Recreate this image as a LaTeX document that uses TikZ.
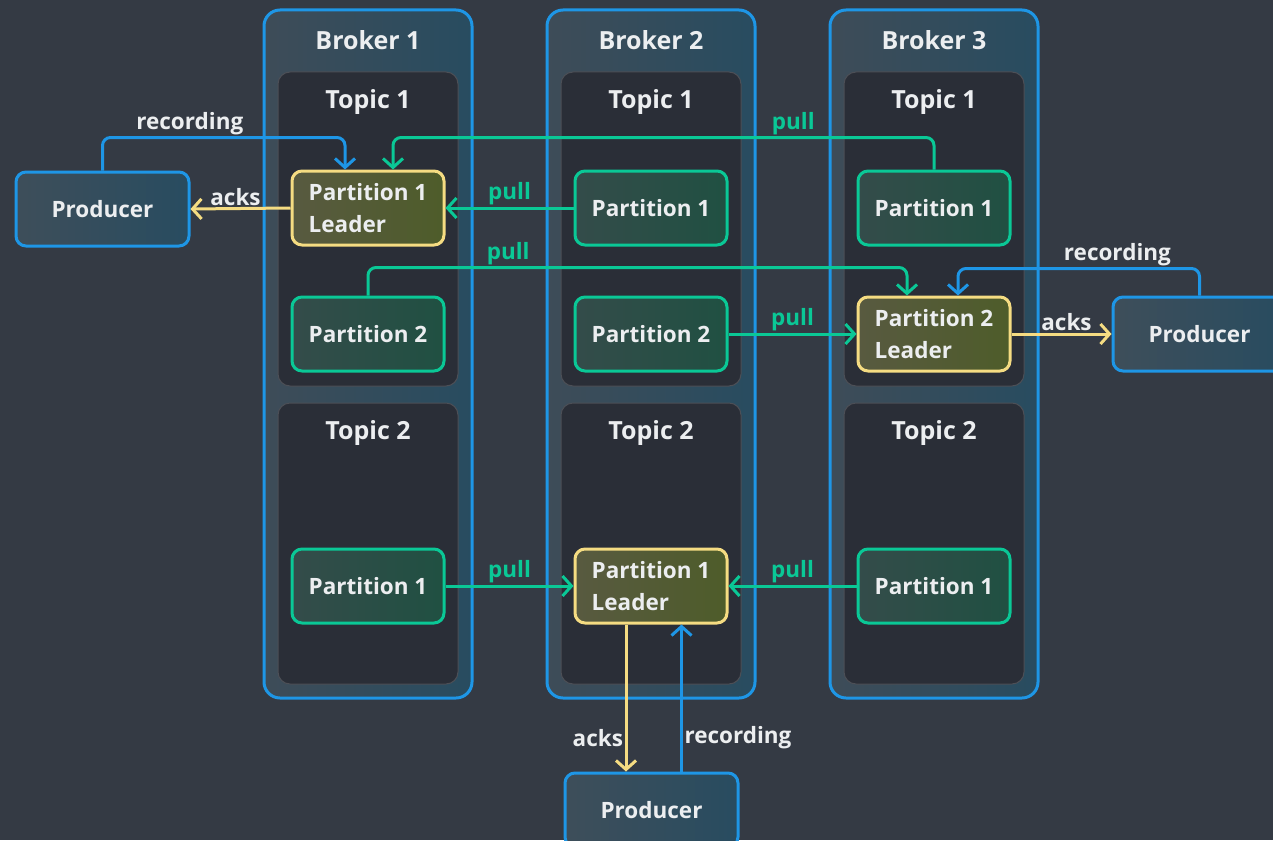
\documentclass[tikz,border=0pt]{standalone}
\usepackage{fontspec}
\setmainfont{Open Sans}
\usetikzlibrary{arrows.meta,positioning}

\definecolor{bgcol}{RGB}{52,58,68}
\definecolor{bluecol}{RGB}{30,150,230}
\definecolor{greencol}{RGB}{10,200,150}
\definecolor{yellowcol}{RGB}{245,220,130}
\definecolor{txtcol}{RGB}{236,238,240}
\definecolor{brkA}{RGB}{62,76,88}
\definecolor{brkB}{RGB}{40,76,96}
\definecolor{topicfill}{RGB}{42,46,55}
\definecolor{partA}{RGB}{52,76,74}
\definecolor{partB}{RGB}{32,80,66}
\definecolor{leadA}{RGB}{88,90,64}
\definecolor{leadB}{RGB}{78,92,42}
\definecolor{prodA}{RGB}{62,78,90}
\definecolor{prodB}{RGB}{40,76,96}

\tikzset{
  broker/.style={draw=bluecol, line width=3pt, rounded corners=16pt,
    left color=brkA, right color=brkB, minimum width=208pt, minimum height=688pt},
  topicbox/.style={fill=topicfill, draw=topicfill!80!white!90!black, line width=1pt,
    rounded corners=12pt, minimum width=180pt},
  title/.style={text=txtcol, font=\fontsize{25}{30}\selectfont\bfseries},
  part/.style={draw=greencol, line width=3pt, rounded corners=10pt,
    left color=partA, right color=partB, minimum width=152pt, minimum height=74pt,
    text=txtcol, font=\fontsize{22.5}{32}\selectfont\bfseries},
  leader/.style={part, draw=yellowcol, left color=leadA, right color=leadB, align=left},
  producer/.style={part, draw=bluecol, left color=prodA, right color=prodB, minimum width=173pt},
  conn/.style={line width=3pt, rounded corners=8pt, -{Straight Barb[length=9pt,width=20pt]}},
  rec/.style={conn, draw=bluecol},
  ack/.style={conn, draw=yellowcol},
  pull/.style={conn, draw=greencol},
  lbl/.style={text=txtcol, inner sep=1.5pt, font=\fontsize{22.5}{26}\selectfont\bfseries},
  pulllbl/.style={lbl, text=greencol},
}

\begin{document}
\begin{tikzpicture}[x=1pt,y=-1pt]
  \fill[bgcol] (0,0) rectangle (1273,840);
  \useasboundingbox (0,0) rectangle (1273,840);
  \clip (0,0) rectangle (1273,840);
  % brokers and topics
  \foreach \i/\cx in {1/368,2/651,3/934} {
    \node[broker] (broker\i) at (\cx,354) {};
    \node[title] at (\cx,40) {Broker \i};
    \node[topicbox, minimum height=314pt] (topicA\i) at (\cx,229) {};
    \node[topicbox, minimum height=281pt] (topicB\i) at (\cx,543.5) {};
    \node[title] at (\cx,102) {Topic 1};
    \node[title] at (\cx,433) {Topic 2};
  }
  % partitions
  \node[leader] (b1t1p1) at (368,208) {Partition 1\\Leader};
  \node[part]   (b2t1p1) at (651,208) {Partition 1};
  \node[part]   (b3t1p1) at (934,208) {Partition 1};
  \node[part]   (b1t1p2) at (368,334) {Partition 2};
  \node[part]   (b2t1p2) at (651,334) {Partition 2};
  \node[leader] (b3t1p2) at (934,334) {Partition 2\\Leader};
  \node[part]   (b1t2p1) at (368,586) {Partition 1};
  \node[leader] (b2t2p1) at (651,586) {Partition 1\\Leader};
  \node[part]   (b3t2p1) at (934,586) {Partition 1};
  % producers
  \node[producer] (prodL) at (102.5,209) {Producer};
  \node[producer] (prodR) at (1199.5,334) {Producer};
  \node[producer] (prodB) at (651.5,810) {Producer};
  % topic 1, partition 1
  \draw[rec] (prodL.north) -- ++(0,-33) -| ([xshift=-23pt]b1t1p1.north)
    node[lbl, above, pos=0.18] {recording};
  \draw[ack] (b1t1p1.west) -- (prodL.east) node[lbl, above, pos=0.55] {acks};
  \draw[pull] (b2t1p1.west) -- (b1t1p1.east) node[pulllbl, above, midway] {pull};
  \draw[pull] (b3t1p1.north) -- ++(0,-32) -| ([xshift=25pt]b1t1p1.north)
    node[pulllbl, above, pos=0.13] {pull};
  % topic 1, partition 2
  \draw[pull] (b1t1p2.north) -- ++(0,-28) -| ([xshift=-27pt]b3t1p2.north)
    node[pulllbl, above, pos=0.13] {pull};
  \draw[pull] (b2t1p2.east) -- (b3t1p2.west) node[pulllbl, above, midway] {pull};
  \draw[rec] (prodR.north) -- ++(0,-27) -| ([xshift=24pt]b3t1p2.north)
    node[lbl, above, pos=0.17] {recording};
  \draw[ack] (b3t1p2.east) -- (prodR.west) node[lbl, above, pos=0.55] {acks};
  % topic 2, partition 1
  \draw[pull] (b1t2p1.east) -- (b2t2p1.west) node[pulllbl, above, midway] {pull};
  \draw[pull] (b3t2p1.west) -- (b2t2p1.east) node[pulllbl, above, midway] {pull};
  \draw[ack] ([xshift=-25pt]b2t2p1.south) -- ([xshift=-25pt]b2t2p1.south |- prodB.north)
    node[lbl, left, pos=0.77] {acks};
  \draw[rec] ([xshift=30pt]prodB.north) -- ([xshift=30pt]prodB.north |- b2t2p1.south)
    node[lbl, right, pos=0.23] {recording};
\end{tikzpicture}
\end{document}
